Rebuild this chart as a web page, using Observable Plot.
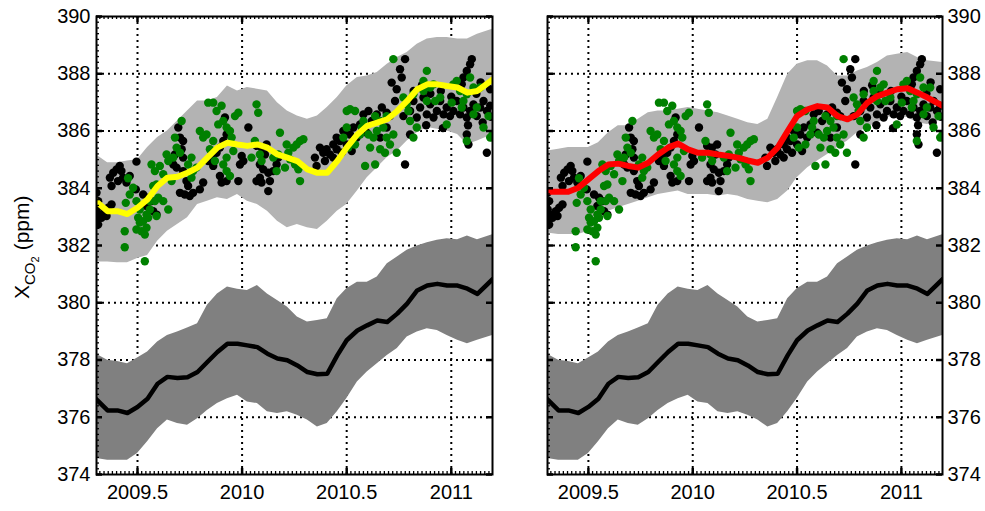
<!DOCTYPE html>
<html><head><meta charset="utf-8">
<script src="https://cdn.jsdelivr.net/npm/d3@7"></script>
<script src="https://cdn.jsdelivr.net/npm/@observablehq/plot@0.6"></script>
<style>
html,body{margin:0;padding:0;background:#fff;}
#wrap{position:relative;width:985px;height:511px;overflow:hidden;}
#left,#right{position:absolute;top:0;}
#left{left:0;}
#right{left:494px;}
</style></head><body>
<div id="wrap"><div id="left"></div><div id="right"></div></div>
<script>
// ---------- data ----------
const years = [2009.30, 2009.357, 2009.404, 2009.452, 2009.5, 2009.548, 2009.596, 2009.643, 2009.691, 2009.739,
  2009.787, 2009.834, 2009.882, 2009.93, 2009.978, 2010.025, 2010.073, 2010.121, 2010.169, 2010.216,
  2010.264, 2010.312, 2010.36, 2010.407, 2010.455, 2010.5, 2010.551, 2010.598, 2010.646, 2010.694,
  2010.742, 2010.789, 2010.837, 2010.885, 2010.933, 2010.98, 2011.03, 2011.077, 2011.125, 2011.20];

// dark (lower) band and its central line — same in both panels
const darkHigh = [378.22, 377.99, 377.95, 377.87, 378.07, 378.28, 378.63, 378.86, 378.98, 379.12,
  379.27, 379.91, 380.31, 380.55, 380.47, 380.43, 380.60, 380.31, 380.08, 379.85,
  379.50, 379.33, 379.38, 379.44, 380.14, 380.49, 380.72, 380.72, 380.90, 381.36,
  381.60, 381.83, 381.98, 382.10, 382.18, 382.24, 382.20, 382.33, 382.20, 382.38];
const darkLow = [374.56, 374.50, 374.50, 374.50, 374.73, 375.14, 375.60, 375.90, 375.78, 375.72,
  375.95, 376.24, 376.48, 376.65, 376.77, 376.53, 376.48, 376.19, 376.13, 376.19,
  376.07, 375.90, 375.66, 375.78, 376.19, 376.65, 377.23, 377.58, 377.87, 378.16,
  378.40, 378.80, 378.98, 379.09, 379.03, 378.86, 378.69, 378.57, 378.69, 378.86];
const darkMid = [376.65, 376.24, 376.24, 376.15, 376.36, 376.65, 377.17, 377.41, 377.37, 377.40,
  377.58, 377.93, 378.28, 378.57, 378.57, 378.51, 378.45, 378.22, 378.05, 377.99,
  377.81, 377.58, 377.50, 377.52, 378.16, 378.69, 379.03, 379.21, 379.38, 379.33,
  379.62, 379.97, 380.43, 380.60, 380.66, 380.60, 380.60, 380.49, 380.31, 380.84];

// left panel: light band + yellow line
const leftLightHigh = [385.18, 384.89, 384.89, 384.95, 385.00, 385.42, 385.77, 386.00, 386.35, 386.70,
  387.05, 387.05, 387.17, 387.57, 387.40, 387.52, 387.46, 387.40, 386.99, 386.70,
  386.52, 386.41, 386.52, 386.82, 387.17, 387.57, 387.87, 387.92, 388.04, 388.33,
  388.57, 388.74, 389.03, 389.21, 389.27, 389.27, 389.21, 389.21, 389.38, 389.56];
const leftLightLow = [381.42, 381.42, 381.40, 381.40, 381.55, 381.65, 382.15, 382.50, 382.73, 382.97,
  383.43, 383.55, 383.67, 383.61, 383.78, 383.55, 383.43, 383.20, 382.85, 382.62,
  382.73, 382.62, 382.56, 382.85, 383.20, 383.43, 383.90, 384.37, 384.72, 385.07,
  385.30, 385.65, 385.94, 386.12, 386.06, 386.00, 385.88, 385.53, 385.65, 385.88];
const leftYellow = [383.55, 383.20, 383.20, 383.10, 383.32, 383.61, 384.08, 384.37, 384.40, 384.54,
  384.72, 385.07, 385.42, 385.59, 385.53, 385.48, 385.53, 385.42, 385.18, 385.07,
  384.95, 384.66, 384.54, 384.54, 384.95, 385.42, 385.88, 386.18, 386.29, 386.41,
  386.70, 387.05, 387.46, 387.63, 387.63, 387.57, 387.52, 387.34, 387.40, 387.81];

// right panel: light band + red line
const rightLightHigh = [385.30, 385.36, 385.42, 385.42, 385.42, 385.59, 385.94, 386.18, 386.18, 386.41,
  386.64, 386.70, 386.70, 386.76, 386.82, 386.76, 386.70, 386.64, 386.52, 386.41,
  386.29, 386.23, 386.41, 387.17, 387.98, 388.33, 388.45, 388.45, 388.27, 387.92,
  387.92, 388.10, 388.22, 388.39, 388.62, 388.68, 388.74, 388.57, 388.45, 388.39];
const rightLightLow = [382.44, 382.38, 382.38, 382.38, 382.50, 382.85, 383.20, 383.32, 383.43, 383.55,
  383.67, 383.78, 383.84, 383.90, 383.78, 383.78, 383.78, 383.73, 383.78, 383.73,
  383.61, 383.55, 383.49, 383.61, 383.90, 384.37, 384.72, 384.95, 385.18, 385.42,
  385.65, 385.94, 386.12, 386.29, 386.47, 386.52, 386.47, 386.29, 386.23, 386.41];
const rightRed = [383.88, 383.88, 383.88, 384.02, 384.31, 384.60, 384.83, 384.86, 384.78, 384.72,
  384.89, 385.18, 385.42, 385.56, 385.36, 385.24, 385.24, 385.18, 385.13, 385.07,
  384.97, 384.89, 385.07, 385.42, 386.00, 386.52, 386.76, 386.87, 386.82, 386.52,
  386.41, 386.58, 386.99, 387.22, 387.34, 387.46, 387.49, 387.34, 387.17, 386.87];

// observations (same in both panels)
const blackDots = [
  [2009.304,383.84],[2009.312,383.55],[2009.305,383.26],[2009.32,383.08],[2009.304,382.85],[2009.328,382.97],
  [2009.344,383.20],[2009.36,383.32],[2009.376,383.43],[2009.352,383.03],[2009.312,382.73],
  [2009.368,384.37],[2009.384,384.54],[2009.40,384.66],[2009.415,384.78],[2009.423,384.60],[2009.376,384.08],
  [2009.407,384.25],[2009.431,384.37],[2009.447,384.20],[2009.463,384.43],[2009.495,384.93],[2009.492,383.96],
  [2009.527,383.78],[2009.551,383.67],[2009.567,383.55],[2009.575,383.20],[2009.543,383.38],[2009.591,383.08],
  [2009.695,386.12],[2009.703,385.77],[2009.718,385.65],[2009.711,385.36],[2009.718,385.07],[2009.687,384.72],
  [2009.718,384.60],[2009.734,384.25],[2009.703,383.84],[2009.726,383.78],[2009.75,383.73],[2009.766,383.84],
  [2009.742,384.08],[2009.798,383.96],[2009.814,384.20],[2009.671,384.83],[2009.679,385.18],
  [2009.838,384.95],[2009.854,385.07],[2009.878,385.24],[2009.894,385.42],[2009.91,385.65],[2009.918,386.47],
  [2009.926,385.88],[2009.862,384.78],[2009.894,384.43],[2009.902,384.20],[2009.926,384.25],[2009.982,384.25],
  [2010.03,386.12],[2009.99,384.83],[2010.006,384.95],[2009.998,385.13],
  [2010.069,385.48],[2010.093,385.42],[2010.117,385.53],[2010.109,385.18],[2010.085,384.83],[2010.101,384.66],
  [2010.125,384.54],[2010.149,384.60],[2010.133,384.25],[2010.085,384.37],[2010.069,384.25],[2010.093,384.20],
  [2010.125,383.90],[2010.165,384.83],[2010.173,385.07],
  [2010.348,385.07],[2010.372,385.42],[2010.388,385.24],[2010.404,385.36],[2010.42,385.18],[2010.436,385.53],
  [2010.436,385.07],[2010.396,384.95],[2010.356,384.78],
  [2010.452,385.77],[2010.468,385.65],[2010.484,386.00],[2010.50,385.53],[2010.516,385.88],[2010.532,386.12],
  [2010.548,385.77],[2010.564,386.23],[2010.524,385.30],[2010.476,385.24],[2010.452,385.36],
  [2010.58,386.58],[2010.604,386.70],[2010.62,386.35],[2010.644,386.58],[2010.668,386.82],[2010.691,386.64],
  [2010.707,386.52],[2010.715,387.69],[2010.739,387.46],[2010.755,388.16],[2010.779,388.51],[2010.763,387.87],
  [2010.731,387.05],[2010.771,386.52],[2010.691,386.12],[2010.66,385.77],[2010.596,385.94],[2010.779,384.83],
  [2010.803,386.70],[2010.819,387.05],[2010.835,386.47],[2010.851,386.82],[2010.867,387.17],[2010.883,386.58],
  [2010.899,386.93],[2010.915,386.47],[2010.931,386.70],[2010.947,387.05],[2010.963,386.58],[2010.978,386.82],
  [2011.01,386.70],[2011.026,387.05],[2011.042,386.58],[2011.058,386.82],[2011.074,386.47],[2011.09,386.70],
  [2011.106,386.93],[2011.122,386.52],[2011.138,386.82],[2011.154,387.05],[2011.17,386.70],[2011.186,386.88],
  [2011.058,387.87],[2011.074,388.10],[2011.09,388.33],[2011.098,388.51],[2011.05,387.63],[2011.074,385.88],
  [2011.082,385.53],[2011.17,385.24],[2011.186,387.46],[2010.994,386.52],[2010.803,385.88],
  [2010.82,387.40],[2010.86,387.60],[2010.90,387.30],[2010.95,387.40],[2011.0,387.20],[2011.12,387.30],
  [2011.15,386.30],[2011.08,386.20],[2010.96,386.10],[2010.88,386.20],[2011.19,386.50],[2011.14,387.70]
];
const greenDots = [
  [2009.439,381.94],[2009.535,381.45],[2009.439,382.50],[2009.444,383.49],[2009.463,383.78],[2009.479,384.02],
  [2009.495,383.55],[2009.511,383.26],[2009.503,382.97],[2009.511,382.80],[2009.519,382.50],[2009.535,382.38],
  [2009.543,382.62],[2009.551,382.97],[2009.543,383.08],[2009.559,383.26],[2009.527,382.85],[2009.495,382.56],
  [2009.591,383.03],[2009.583,383.55],[2009.559,383.55],[2009.599,383.67],[2009.623,383.55],[2009.647,383.26],
  [2009.455,384.35],
  [2009.567,384.83],[2009.583,384.60],[2009.607,384.78],[2009.639,385.18],[2009.647,384.95],[2009.671,385.07],
  [2009.679,385.77],[2009.687,385.42],[2009.703,385.24],[2009.711,386.35],[2009.742,384.83],[2009.758,385.07],
  [2009.766,384.60],[2009.623,384.49],[2009.663,384.25],[2009.591,384.13],[2009.575,384.08],[2009.758,384.37],
  [2009.782,384.72],[2009.798,386.00],[2009.814,385.77],[2009.83,385.88],[2009.838,386.99],[2009.862,386.99],
  [2009.878,386.70],[2009.902,386.88],[2009.886,386.23],[2009.91,386.35],[2009.926,386.12],[2009.942,386.00],
  [2009.95,385.77],[2009.966,386.52],[2009.982,386.64],[2009.958,385.30],[2009.862,385.65],[2009.846,385.36],
  [2009.87,384.95],[2009.91,384.83],[2009.926,384.60],[2009.942,384.43],[2009.926,385.07],
  [2010.069,386.93],[2010.077,386.64],[2010.061,385.65],[2010.085,385.18],[2010.093,384.95],[2010.045,385.07],
  [2010.181,385.94],[2010.213,385.53],[2010.221,385.24],[2010.245,385.42],[2010.261,385.53],[2010.277,385.65],
  [2010.293,385.71],[2010.229,385.01],[2010.253,384.83],[2010.205,384.72],[2010.277,384.25],[2010.269,384.66],
  [2010.149,385.07],[2010.173,385.18],[2010.165,384.60],
  [2010.50,386.70],[2010.516,386.76],[2010.54,386.70],[2010.50,386.12],[2010.484,385.77],[2010.508,385.42],
  [2010.54,385.53],[2010.564,385.88],[2010.572,386.12],[2010.588,384.78],[2010.636,384.83],[2010.612,385.42],
  [2010.628,385.77],[2010.644,386.00],[2010.66,386.35],[2010.675,386.12],[2010.691,385.77],[2010.707,385.53],
  [2010.723,385.88],[2010.739,385.24],[2010.66,385.36],[2010.683,385.24],[2010.604,385.88],[2010.58,386.35],
  [2010.636,386.52],[2010.691,386.52],[2010.723,388.51],[2010.771,387.17],[2010.787,386.93],[2010.803,386.35],
  [2010.819,385.77],[2010.835,386.12],[2010.867,387.75],[2010.883,388.10],[2010.867,387.40],[2010.899,387.52],
  [2010.923,387.05],[2010.947,387.17],[2010.978,386.23],[2011.01,387.63],[2011.026,387.75],[2011.042,387.40],
  [2011.058,387.05],[2011.074,387.28],[2011.09,387.87],[2011.106,387.52],[2011.122,386.82],[2011.154,386.12],
  [2011.178,386.52],[2011.186,385.77],[2011.074,385.65],[2011.002,386.99],[2010.883,387.05],[2010.819,387.28],
  [2010.795,386.70],[2010.915,387.63],[2011.05,386.82],[2011.106,386.58],[2011.138,387.52],[2011.196,385.85]
];

const yTicks = [374, 376, 378, 380, 382, 384, 386, 388, 390];
const xTicks = [2009.5, 2010, 2010.5, 2011];
const xTickLabels = ["2009.5", "2010", "2010.5", "2011"];
const xDomain = [2009.304, 2011.197];
const yDomain = [374, 390];

// ---------- drawing ----------
const H = 458;           // frame height in px
const FS = 20;           // tick label font size
const FONT = "'Liberation Sans', Arial, Helvetica, sans-serif";
const minorX = d3.range(0, 96).map(i => 2009.30 + i * 0.02).filter(v => v > xDomain[0] + 0.005 && v < xDomain[1] - 0.005);
const minorY = d3.range(0, 81).map(i => 374 + i * 0.2);

function panel({width, marginLeft, marginRight, lightHigh, lightLow, trend, trendColor, labelSide}) {
  const W = width - marginLeft - marginRight;
  const rows = years.map((t, i) => ({t, dHi: darkHigh[i], dLo: darkLow[i], dMid: darkMid[i],
    lHi: lightHigh[i], lLo: lightLow[i], tr: trend[i]}));
  const grid = {stroke: "black", strokeWidth: 2, strokeDasharray: "2,4"};
  return Plot.plot({
    width, height: 511, marginLeft, marginRight, marginTop: 16, marginBottom: 37,
    x: {domain: xDomain},
    y: {domain: yDomain},
    style: {fontFamily: FONT, fontSize: FS + "px", color: "black", background: "white", overflow: "visible"},
    marks: [
      Plot.ruleY(yTicks.slice(1, -1), {...grid}),
      Plot.ruleX(xTicks, {...grid}),
      Plot.areaY(rows, {x: "t", y1: "lLo", y2: "lHi", fill: "#b3b3b3", clip: true}),
      Plot.areaY(rows, {x: "t", y1: "dLo", y2: "dHi", fill: "#808080", clip: true}),
      Plot.line(rows, {x: "t", y: "dMid", stroke: "black", strokeWidth: 4.5, clip: true}),
      Plot.dot(blackDots, {x: d => d[0], y: d => d[1], r: 4.2, fill: "black", clip: true}),
      Plot.dot(greenDots, {x: d => d[0], y: d => d[1], r: 4.2, fill: "#008000", clip: true}),
      Plot.line(rows, {x: "t", y: "tr", stroke: trendColor, strokeWidth: 6, clip: true}),
      // minor ticks (inward)
      Plot.tickX(minorX, {x: d => d, insetTop: H - 3, stroke: "black", strokeWidth: 1.3}),
      Plot.tickX(minorX, {x: d => d, insetBottom: H - 3, stroke: "black", strokeWidth: 1.3}),
      Plot.tickY(minorY, {y: d => d, insetRight: W - 3, stroke: "black", strokeWidth: 1.3}),
      // major ticks
      Plot.tickX(xTicks, {x: d => d, insetTop: H - 6, stroke: "black", strokeWidth: 2.5}),
      Plot.tickX(xTicks, {x: d => d, insetBottom: H - 6, stroke: "black", strokeWidth: 2.5}),
      Plot.tickY(yTicks, {y: d => d, insetRight: W - 6, stroke: "black", strokeWidth: 2.5}),
      Plot.tickY(yTicks, {y: d => d, insetLeft: W - 6, stroke: "black", strokeWidth: 2.5}),
      Plot.frame({stroke: "black", strokeWidth: 2}),
      Plot.axisX(xTicks, {anchor: "bottom", tickSize: 0, tickPadding: 10, fontSize: FS, label: null,
        tickFormat: d => xTickLabels[xTicks.indexOf(d)]}),
      Plot.axisY(yTicks, {anchor: labelSide, tickSize: 0, fontSize: FS, label: null,
        tickPadding: labelSide === "left" ? 6 : 5})
    ]
  });
}

const left = panel({width: 494, marginLeft: 96, marginRight: 2,
  lightHigh: leftLightHigh, lightLow: leftLightLow, trend: leftYellow, trendColor: "#ffff00", labelSide: "left"});
const right = panel({width: 491, marginLeft: 53, marginRight: 43,
  lightHigh: rightLightHigh, lightLow: rightLightLow, trend: rightRed, trendColor: "#ff0000", labelSide: "right"});

document.getElementById("left").appendChild(left);
document.getElementById("right").appendChild(right);

// y-axis title with subscripts
const lab = d3.select(left).append("text")
  .attr("transform", "translate(29,299) rotate(-90)")
  .attr("text-anchor", "start")
  .style("fill", "black")
  .style("font-family", FONT)
  .style("font-size", "21px");
lab.append("tspan").style("font-size", "21px").text("X");
lab.append("tspan").style("font-size", "15px").attr("dy", 6).text("CO");
lab.append("tspan").style("font-size", "11px").attr("dy", 4).text("2");
lab.append("tspan").style("font-size", "21px").attr("dy", -10).attr("dx", 6).text("(ppm)");
</script>
</body></html>
